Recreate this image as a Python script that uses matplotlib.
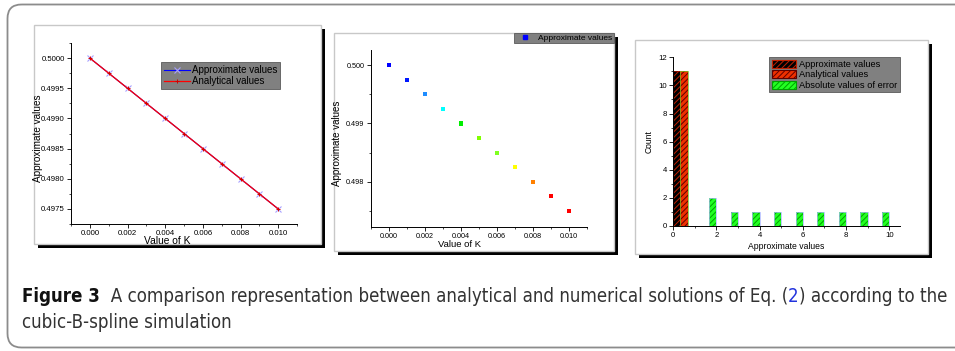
import os
import matplotlib
matplotlib.use("Agg")
import matplotlib.pyplot as plt
from matplotlib import font_manager as fm
from matplotlib.patches import Rectangle, FancyBboxPatch, Patch
from matplotlib.lines import Line2D
from matplotlib.ticker import MultipleLocator, FormatStrFormatter

# ---------------- data ----------------
k_values = [0.000, 0.001, 0.002, 0.003, 0.004, 0.005, 0.006, 0.007, 0.008, 0.009, 0.010]
approx_values = [0.50000, 0.49975, 0.49950, 0.49925, 0.49900, 0.49875,
                 0.49850, 0.49825, 0.49800, 0.49775, 0.49750]
analytical_values = [0.50000, 0.49975, 0.49950, 0.49925, 0.49900, 0.49875,
                     0.49850, 0.49825, 0.49800, 0.49775, 0.49750]
point_colors = ['#0000ff', '#0018ff', '#1e8cff', '#00ffff', '#00ee00', '#80ff00',
                '#80ff20', '#ffff00', '#ff8000', '#ff0000', '#ff0000']

hist_approx_bin = [0]
hist_approx_count = [11]
hist_anal_bin = [0]
hist_anal_count = [11]
hist_err_bin = [1, 2, 3, 4, 5, 6, 7, 8, 9]
hist_err_count = [2, 1, 1, 1, 1, 1, 1, 1, 1]

caption_bold = "Figure 3"
caption_a = "  A comparison representation between analytical and numerical solutions of Eq. ("
caption_ref = "2"
caption_b = ") according to the"
caption_line2 = "cubic-B-spline simulation"

# ---------------- figure ----------------
W, H = 955, 351
fig = plt.figure(figsize=(W / 100, H / 100), dpi=100)
fig.patch.set_facecolor('white')
plt.rcParams['font.family'] = ['Liberation Sans', 'DejaVu Sans']
plt.rcParams['hatch.linewidth'] = 0.7

def rect(x0, y0, x1, y1):
    return [x0 / W, 1 - y1 / H, (x1 - x0) / W, (y1 - y0) / H]

bg = fig.add_axes([0, 0, 1, 1], zorder=0)
bg.set_xlim(0, W)
bg.set_ylim(H, 0)
bg.axis('off')

# outer rounded box (cut at right edge)
bg.add_patch(FancyBboxPatch((7.5, 4.5), 990, 343, boxstyle="round,pad=0,rounding_size=14",
                            fc='none', ec='#8c8c8c', lw=1.3, clip_on=False))

frames = [(34, 25, 321, 244), (334, 33, 614, 251), (635, 40, 928, 254)]
for (x0, y0, x1, y1) in frames:
    bg.add_patch(Rectangle((x0 + 4, y0 + 4), x1 - x0, y1 - y0, fc='black', ec='none'))
    bg.add_patch(Rectangle((x0, y0), x1 - x0, y1 - y0, fc='white', ec='#c8c8c8', lw=1.0))

tick_fs = 5.6

def style_axes(ax):
    ax.patch.set_alpha(0)
    for s in ('top', 'right'):
        ax.spines[s].set_visible(False)
    for s in ('left', 'bottom'):
        ax.spines[s].set_linewidth(0.7)
    ax.tick_params(which='major', direction='out', length=3, width=0.6, labelsize=tick_fs, pad=1.5)
    ax.tick_params(which='minor', direction='out', length=1.6, width=0.5)

# ---------------- panel 1 ----------------
ax1 = fig.add_axes(rect(71, 43, 297, 224), zorder=2)
ax1.plot(k_values, approx_values, color='blue', lw=0.8, marker='x', ms=4.5,
         mec='#a8a0ff', mew=0.8, label='Approximate values')
ax1.plot(k_values, analytical_values, color='red', lw=0.9, marker='+', ms=3.5,
         mec='#d00000', mew=0.7, label='Analytical values')
ax1.set_xlim(-0.001, 0.011)
ax1.set_ylim(0.49725, 0.50025)
ax1.xaxis.set_major_locator(MultipleLocator(0.002))
ax1.xaxis.set_minor_locator(MultipleLocator(0.001))
ax1.yaxis.set_major_locator(MultipleLocator(0.0005))
ax1.yaxis.set_minor_locator(MultipleLocator(0.00025))
ax1.xaxis.set_major_formatter(FormatStrFormatter('%.3f'))
ax1.yaxis.set_major_formatter(FormatStrFormatter('%.4f'))
style_axes(ax1)
ax1.set_xlabel('Value of K', fontsize=7.4)
ax1.xaxis.set_label_coords(0.425, -0.066)
ax1.set_ylabel('Approximate values', fontsize=7.2)
ax1.yaxis.set_label_coords(-0.125, 0.475)
leg1 = ax1.legend(loc='upper left', bbox_to_anchor=(0.40, 0.895), fontsize=7.0,
                  frameon=True, fancybox=False, shadow=False, facecolor='#808080',
                  edgecolor='#5a5a5a', framealpha=1, borderpad=0.3, labelspacing=0.15,
                  handlelength=2.6, handletextpad=0.2, borderaxespad=0)
leg1.get_frame().set_linewidth(0.6)

# ---------------- panel 2 ----------------
ax2 = fig.add_axes(rect(370.7, 50, 586.7, 226.7), zorder=2)
ax2.scatter(k_values, approx_values, c=point_colors, marker='s', s=9, linewidths=0,
            label='Approximate values')
ax2.set_xlim(-0.001, 0.011)
ax2.set_ylim(0.49723, 0.50026)
ax2.xaxis.set_major_locator(MultipleLocator(0.002))
ax2.xaxis.set_minor_locator(MultipleLocator(0.001))
ax2.yaxis.set_major_locator(MultipleLocator(0.001))
ax2.yaxis.set_minor_locator(MultipleLocator(0.0005))
ax2.xaxis.set_major_formatter(FormatStrFormatter('%.3f'))
ax2.yaxis.set_major_formatter(FormatStrFormatter('%.3f'))
style_axes(ax2)
ax2.tick_params(labelsize=5.2)
ax2.set_xlabel('Value of K', fontsize=6.8)
ax2.xaxis.set_label_coords(0.413, -0.075)
ax2.set_ylabel('Approximate values', fontsize=7.0)
ax2.yaxis.set_label_coords(-0.135, 0.474)
leg2 = ax2.legend(handles=[Line2D([], [], ls='none', marker='s', ms=3.2, color='blue')],
                  labels=['Approximate values'], loc='upper right',
                  bbox_to_anchor=(613.5 / W, 1 - 33 / H), bbox_transform=fig.transFigure,
                  fontsize=6.0, frameon=True, fancybox=False, facecolor='#808080',
                  edgecolor='#5a5a5a', framealpha=1, borderpad=0.15, handlelength=2.2,
                  handletextpad=0.5, borderaxespad=0)
leg2.get_frame().set_linewidth(0.6)

# ---------------- panel 3 ----------------
ax3 = fig.add_axes(rect(673.3, 57.3, 900, 226), zorder=2)
bw = 1 / 3
styles = {
    'approx': dict(face='#000000', hatch_c='#c02000', edge='#b01000'),
    'anal': dict(face='#ee3000', hatch_c='#600000', edge='#70c020'),
    'err': dict(face='#22ff22', hatch_c='#00a000', edge='#a8b4ff'),
}
series = [('approx', hist_approx_bin, hist_approx_count, 0),
          ('anal', hist_anal_bin, hist_anal_count, 1),
          ('err', hist_err_bin, hist_err_count, 2)]
for name, bins, counts, idx in series:
    st = styles[name]
    lefts = [b + idx * bw for b in bins]
    ax3.bar(lefts, counts, width=bw, align='edge', color=st['face'], edgecolor=st['hatch_c'],
            hatch='//////', linewidth=0)
    ax3.bar(lefts, counts, width=bw, align='edge', fill=False, edgecolor=st['edge'], linewidth=0.5)
ax3.set_xlim(0, 10.5)
ax3.set_ylim(0, 12)
ax3.xaxis.set_major_locator(MultipleLocator(2))
ax3.xaxis.set_minor_locator(MultipleLocator(1))
ax3.yaxis.set_major_locator(MultipleLocator(2))
ax3.yaxis.set_minor_locator(MultipleLocator(1))
style_axes(ax3)
ax3.set_xlabel('Approximate values', fontsize=6.2)
ax3.xaxis.set_label_coords(0.50, -0.095)
ax3.set_ylabel('Count', fontsize=6.2)
ax3.yaxis.set_label_coords(-0.085, 0.498)
handles3 = []
for name in ('approx', 'anal', 'err'):
    st = styles[name]
    handles3.append(Patch(facecolor=st['face'], edgecolor=st['hatch_c'], hatch='//////', lw=0.8))
leg3 = ax3.legend(handles=handles3,
                  labels=['Approximate values', 'Analytical values', 'Absolute values of error'],
                  loc='upper right', bbox_to_anchor=(1.0, 1.0), fontsize=6.7, frameon=True,
                  fancybox=False, facecolor='#808080', edgecolor='#5a5a5a', framealpha=1,
                  borderpad=0.25, labelspacing=0.12, handlelength=2.6, handleheight=1.0,
                  handletextpad=0.4, borderaxespad=0)
leg3.get_frame().set_linewidth(0.6)

# ---------------- caption ----------------
def find_font(patterns):
    files = [f.fname for f in fm.fontManager.ttflist]
    for p in patterns:
        for f in files:
            if os.path.basename(f).lower() == p.lower():
                return f
    return None

reg_file = find_font(['OpenSans_Condensed-Regular.ttf', 'OpenSansCondensed-Regular.ttf',
                      'NotoSans-CondensedRegular.ttf', 'NotoSans-Condensed.ttf',
                      'LiberationSansNarrow-Regular.ttf', 'DejaVuSansCondensed.ttf'])
bold_file = find_font(['OpenSans_Condensed-SemiBold.ttf', 'OpenSans_Condensed-Bold.ttf',
                       'OpenSansCondensed-Bold.ttf', 'NotoSans-CondensedSemiBold.ttf',
                       'NotoSans-CondensedBold.ttf', 'LiberationSansNarrow-Bold.ttf',
                       'DejaVuSansCondensed-Bold.ttf'])
if reg_file:
    fp_reg = fm.FontProperties(fname=reg_file)
else:
    fp_reg = fm.FontProperties(family='Open Sans')
if bold_file:
    fp_bold = fm.FontProperties(fname=bold_file)
else:
    fp_bold = fm.FontProperties(family='Open Sans', weight='bold')

fs = 12
fp_reg.set_size(fs)
fp_bold.set_size(fs)
t1 = bg.text(22, 302, caption_bold, fontproperties=fp_bold.copy(),
             color='#111111', va='baseline', ha='left')
t2 = bg.annotate(caption_a, xy=(1, 0), xycoords=t1, va='bottom', ha='left',
                 fontproperties=fp_reg.copy(), color='#333333')
t3 = bg.annotate(caption_ref, xy=(1, 0), xycoords=t2, va='bottom', ha='left',
                 fontproperties=fp_reg.copy(), color='#2233dd')
t4 = bg.annotate(caption_b, xy=(1, 0), xycoords=t3, va='bottom', ha='left',
                 fontproperties=fp_reg.copy(), color='#333333')
t5 = bg.text(22, 328, caption_line2, fontproperties=fp_reg.copy(), color='#333333',
             va='baseline', ha='left')
fig.canvas.draw()
r = fig.canvas.get_renderer()
x_left = t1.get_window_extent(r).x0
x_right = t4.get_window_extent(r).x1
new_fs = fs * (948 - 22) / (x_right - x_left)
for t in (t1, t2, t3, t4, t5):
    t.set_fontsize(new_fs)

fig.savefig('out.png', dpi=100, facecolor='white')
